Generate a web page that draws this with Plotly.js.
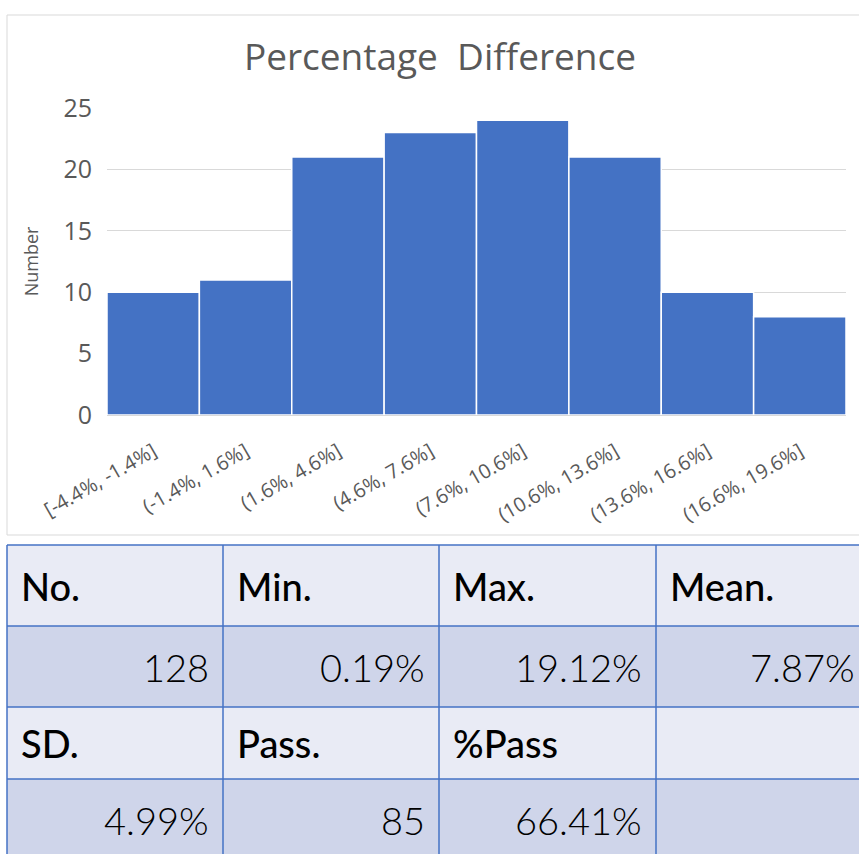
<!DOCTYPE html>
<html><head><meta charset="utf-8">
<script src="https://cdn.plot.ly/plotly-3.0.1.min.js"></script>
<style>html,body{margin:0;padding:0;background:#fff;}#chart{width:859px;height:854px;}</style>
</head><body><div id="chart"></div>
<script>
// ---- data ----
const binLabels = ['[-4.4%, -1.4%]','(-1.4%, 1.6%]','(1.6%, 4.6%]','(4.6%, 7.6%]','(7.6%, 10.6%]','(10.6%, 13.6%]','(13.6%, 16.6%]','(16.6%, 19.6%]'];
const counts = [10, 11, 21, 23, 24, 21, 10, 8];
const chartTitle = 'Percentage\u00a0\u00a0Difference';
const yTitle = 'Number';
const statHeaders1 = ['No.', 'Min.', 'Max.', 'Mean.'];
const statValues1 = ['128', '0.19%', '19.12%', '7.87%'];
const statHeaders2 = ['SD.', 'Pass.', '%Pass', ''];
const statValues2 = ['4.99%', '85', '66.41%', ''];

// ---- geometry / styles ----
const W = 859, H = 854;
const px = x => x / W, py = y => 1 - y / H;
const grey = '#595959';
const chartFont = '"Open Sans", "Noto Sans", sans-serif';
const tableFont = 'Lato, "Noto Sans", sans-serif';
const colEdges = [7, 223, 439, 656, 872];
const rowEdges = [545, 626, 707, 779, 860];
const cellPad = 12;
const tableRows = [
  {kind: 'head', cells: statHeaders1},
  {kind: 'val', cells: statValues1},
  {kind: 'head', cells: statHeaders2},
  {kind: 'val', cells: statValues2}
];
const headFill = '#e9ebf5', valFill = '#cfd5ea', borderBlue = '#4472c4';

const bars = {
  type: 'bar', x: binLabels, y: counts,
  marker: {color: '#4472c4', line: {color: '#ffffff', width: 1.5}},
  hoverinfo: 'skip', xaxis: 'x', yaxis: 'y'
};

const tableHeat = {
  type: 'heatmap', xaxis: 'x2', yaxis: 'y2',
  x: colEdges, y: rowEdges,
  z: tableRows.map(r => r.cells.map(() => r.kind === 'head' ? 0 : 1)),
  colorscale: [[0, headFill], [1, valFill]], zmin: 0, zmax: 1,
  showscale: false, hoverinfo: 'skip'
};

const shapes = [];
// chart frame
shapes.push({type: 'rect', xref: 'paper', yref: 'paper', x0: px(7), x1: px(900), y0: py(535), y1: py(15),
  line: {color: '#d9d9d9', width: 1}, fillcolor: 'rgba(0,0,0,0)', layer: 'below'});
// table grid lines
colEdges.forEach(cx => shapes.push({type: 'line', xref: 'x2', yref: 'y2', x0: cx, x1: cx,
  y0: rowEdges[0], y1: rowEdges[rowEdges.length - 1], line: {color: borderBlue, width: 1.5}}));
rowEdges.forEach(ry => shapes.push({type: 'line', xref: 'x2', yref: 'y2', x0: colEdges[0], x1: colEdges[colEdges.length - 1],
  y0: ry, y1: ry, line: {color: borderBlue, width: 1.5}}));

const annotations = [];
tableRows.forEach((r, ri) => {
  const yc = (rowEdges[ri] + rowEdges[ri + 1]) / 2;
  r.cells.forEach((t, ci) => {
    if (!t) return;
    const head = r.kind === 'head';
    const ax = head ? colEdges[ci] + cellPad : Math.min(colEdges[ci + 1] - cellPad, W - 2);
    annotations.push({
      xref: 'x2', yref: 'y2', x: ax, y: yc,
      xanchor: head ? 'left' : 'right', yanchor: 'middle',
      text: t, showarrow: false,
      font: {family: tableFont, size: 38, color: '#000000', weight: head ? 500 : 300}
    });
  });
});

const layout = {
  width: W, height: H, margin: {l: 0, r: 0, t: 0, b: 0},
  paper_bgcolor: '#ffffff', plot_bgcolor: 'rgba(0,0,0,0)',
  showlegend: false, bargap: 0,
  title: {text: chartTitle, x: px(440), xref: 'paper', xanchor: 'center', y: py(57), yref: 'paper', yanchor: 'middle',
    font: {family: chartFont, size: 37, color: grey}},
  xaxis: {domain: [px(107), px(846)], range: [-0.5, 7.5], type: 'category', tickangle: -30,
    tickfont: {family: chartFont, size: 20, color: grey}, ticks: '', showgrid: false, showline: false,
    zeroline: false, ticklabelstandoff: 20, fixedrange: true},
  yaxis: {domain: [py(415), py(108)], range: [0, 25], dtick: 5, tickfont: {family: chartFont, size: 25, color: grey},
    gridcolor: '#d9d9d9', gridwidth: 1, zeroline: true, zerolinecolor: '#d9d9d9', zerolinewidth: 1,
    showline: false, ticks: '', ticklabelstandoff: 14, fixedrange: true,
    title: {text: yTitle, font: {family: chartFont, size: 18, color: grey}, standoff: 20}},
  xaxis2: {domain: [0, 1], range: [0, W], showgrid: false, zeroline: false, showticklabels: false, ticks: '', anchor: 'y2', fixedrange: true},
  yaxis2: {domain: [0, py(540)], range: [H, 540], showgrid: false, zeroline: false, showticklabels: false, ticks: '', anchor: 'x2', fixedrange: true},
  shapes: shapes, annotations: annotations
};

Plotly.newPlot('chart', [bars, tableHeat], layout, {displayModeBar: false, staticPlot: true});
</script>
</body></html>
